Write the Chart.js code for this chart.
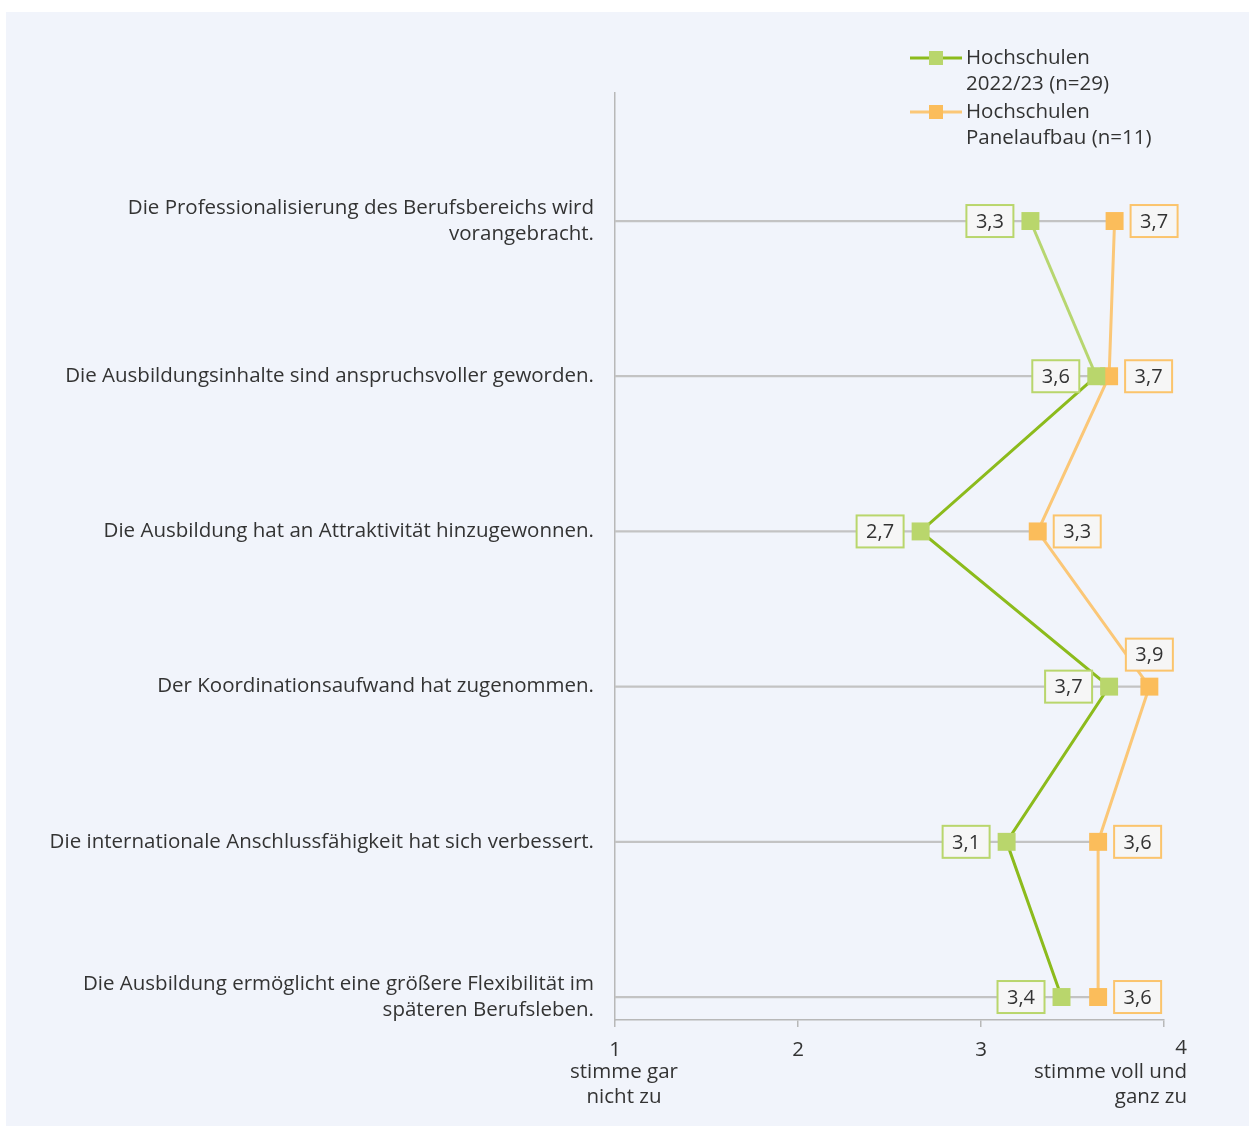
<!DOCTYPE html>
<html><head><meta charset="utf-8">
<script src="https://cdn.jsdelivr.net/npm/chart.js@4/dist/chart.umd.min.js"></script>
<style>html,body{margin:0;padding:0;background:#fff;}#wrap{position:absolute;left:0;top:0;width:1249px;height:1126px;}</style>
</head><body><div id="wrap"><canvas id="c" width="1249" height="1126"></canvas></div>
<script>
const categories = [
  ["Die Professionalisierung des Berufsbereichs wird", "vorangebracht."],
  ["Die Ausbildungsinhalte sind anspruchsvoller geworden."],
  ["Die Ausbildung hat an Attraktivität hinzugewonnen."],
  ["Der Koordinationsaufwand hat zugenommen."],
  ["Die internationale Anschlussfähigkeit hat sich verbessert."],
  ["Die Ausbildung ermöglicht eine größere Flexibilität im", "späteren Berufsleben."]
];
const seriesNames = [["Hochschulen", "2022/23 (n=29)"], ["Hochschulen", "Panelaufbau (n=11)"]];
const green = [3.27, 3.63, 2.67, 3.70, 3.14, 3.44];
const orange = [3.73, 3.70, 3.31, 3.92, 3.64, 3.64];
const xTicks = [1, 2, 3, 4];
const xLowLabel = ["stimme gar", "nicht zu"];
const xHighLabel = ["stimme voll und", "ganz zu"];

const FONT = "'Open Sans', 'Noto Sans', sans-serif";
const FS = 20.5;
const TXT = '#333333';
const C = {
  gMarker: '#b9d66c', gLine: '#8cbb1c', gLineLight: '#b7d670', gBorder: '#b9d66c',
  oMarker: '#fbbd5b', oLine: '#fbc777', oBorder: '#fbc46c', grid: '#c3c3c3', bg: '#f1f4fb'
};

const fmt = v => v.toFixed(1).replace('.', ',');

const bgPlugin = {
  id: 'bg',
  beforeDraw(chart) {
    const ctx = chart.ctx;
    ctx.save();
    ctx.fillStyle = '#ffffff';
    ctx.fillRect(0, 0, chart.width, chart.height);
    ctx.fillStyle = C.bg;
    ctx.fillRect(6, 12, chart.width - 6, chart.height - 12);
    ctx.restore();
  }
};

const labelPlugin = {
  id: 'labels',
  afterDatasetsDraw(chart) {
    const ctx = chart.ctx;
    ctx.save();
    ctx.font = '20px ' + FONT;
    ctx.textBaseline = 'middle';
    ctx.textAlign = 'center';
    [1, 2].forEach(di => {
      const meta = chart.getDatasetMeta(di);
      const vals = di === 1 ? green : orange;
      meta.data.forEach((pt, i) => {
        const t = fmt(vals[i]);
        const w = 47, h = 32;
        let bx, by;
        if (di === 1) { bx = pt.x - 17 - w; by = pt.y - h / 2; }
        else if (vals[i] > 3.85) { bx = pt.x - w / 2; by = pt.y - 16 - h; }
        else { bx = pt.x + 16; by = pt.y - h / 2; }
        ctx.fillStyle = '#f6f6f6';
        ctx.fillRect(bx, by, w, h);
        ctx.lineWidth = 2;
        ctx.strokeStyle = di === 1 ? C.gBorder : C.oBorder;
        ctx.strokeRect(bx, by, w, h);
        ctx.fillStyle = TXT;
        ctx.fillText(t, bx + w / 2, by + h / 2 + 1);
      });
    });
    // x-axis end descriptions
    ctx.font = FS + 'px ' + FONT;
    const xs = chart.scales.x;
    ctx.textAlign = 'right';
    ctx.fillText(String(xTicks[xTicks.length - 1]), xs.getPixelForValue(xTicks[xTicks.length - 1]) + 23, 1048);
    ctx.textAlign = 'center';
    xLowLabel.forEach((l, k) => ctx.fillText(l, xs.getPixelForValue(xTicks[0]) + 9, 1072 + k * 25));
    ctx.textAlign = 'right';
    xHighLabel.forEach((l, k) => ctx.fillText(l, xs.getPixelForValue(xTicks[xTicks.length - 1]) + 23, 1072 + k * 25));
    // legend
    ctx.textAlign = 'left';
    const items = [
      { line: C.gLine, marker: C.gMarker, y: 58 },
      { line: C.oLine, marker: C.oMarker, y: 112 }
    ];
    items.forEach((it, k) => {
      ctx.strokeStyle = it.line; ctx.lineWidth = 3;
      ctx.beginPath(); ctx.moveTo(910, it.y); ctx.lineTo(962, it.y); ctx.stroke();
      ctx.fillStyle = it.marker; ctx.fillRect(929, it.y - 7, 14, 14);
      ctx.fillStyle = TXT;
      seriesNames[k].forEach((l, j) => ctx.fillText(l, 966, it.y + j * 26));
    });
    ctx.restore();
  }
};

const rowIdx = categories.map((_, i) => i);

new Chart(document.getElementById('c'), {
  type: 'line',
  data: {
    datasets: [
      {
        type: 'bar', indexAxis: 'y', order: 3,
        data: rowIdx.map(i => ({ y: i, x: [xTicks[0], Math.max(green[i], orange[i])] })),
        backgroundColor: C.grid, barThickness: 1.6, borderWidth: 0
      },
      {
        type: 'line', indexAxis: 'y', order: 1, label: seriesNames[0].join(' '),
        data: rowIdx.map(i => ({ y: i, x: green[i] })),
        borderColor: C.gLine, borderWidth: 3,
        segment: { borderColor: c => c.p0DataIndex === 0 ? C.gLineLight : C.gLine },
        pointStyle: 'rect', pointRadius: 12.7, pointBorderWidth: 0,
        pointBackgroundColor: C.gMarker, pointBorderColor: C.gMarker, tension: 0, clip: false
      },
      {
        type: 'line', indexAxis: 'y', order: 2, label: seriesNames[1].join(' '),
        data: rowIdx.map(i => ({ y: i, x: orange[i] })),
        borderColor: C.oLine, borderWidth: 3,
        pointStyle: 'rect', pointRadius: 12.7, pointBorderWidth: 0,
        pointBackgroundColor: C.oMarker, pointBorderColor: C.oMarker, tension: 0, clip: false
      }
    ]
  },
  options: {
    responsive: false, animation: false, indexAxis: 'y',
    layout: { padding: { top: 93, right: 85, left: 0, bottom: 0 } },
    plugins: { legend: { display: false }, tooltip: { enabled: false } },
    scales: {
      x: {
        type: 'linear', position: 'bottom', min: 1, max: 4, offset: false,
        afterBuildTicks: s => { s.ticks = xTicks.map(v => ({ value: v })); },
        afterFit: s => { s.height = 106; },
        grid: { drawOnChartArea: false, tickLength: 7, color: '#b8b8b8', lineWidth: 1.5, offset: false },
        border: { color: '#b8b8b8', width: 1.5 },
        ticks: {
          color: TXT, font: { size: FS, family: FONT }, padding: 11, maxRotation: 0,
          callback: v => v === xTicks[xTicks.length - 1] ? '' : String(v)
        }
      },
      y: {
        type: 'linear', reverse: true, min: -0.825, max: 5.148, offset: false,
        afterBuildTicks: s => { s.ticks = rowIdx.map(v => ({ value: v })); },
        afterFit: s => { s.width = 615; },
        grid: { display: true, drawOnChartArea: false, drawTicks: false, color: '#b8b8b8', offset: false },
        border: { color: '#b8b8b8', width: 1.5 },
        ticks: {
          color: TXT, font: { size: FS, family: FONT, lineHeight: 1.28 }, padding: 21,
          callback: v => categories[v]
        }
      }
    }
  },
  plugins: [bgPlugin, labelPlugin]
});
</script>
</body></html>
